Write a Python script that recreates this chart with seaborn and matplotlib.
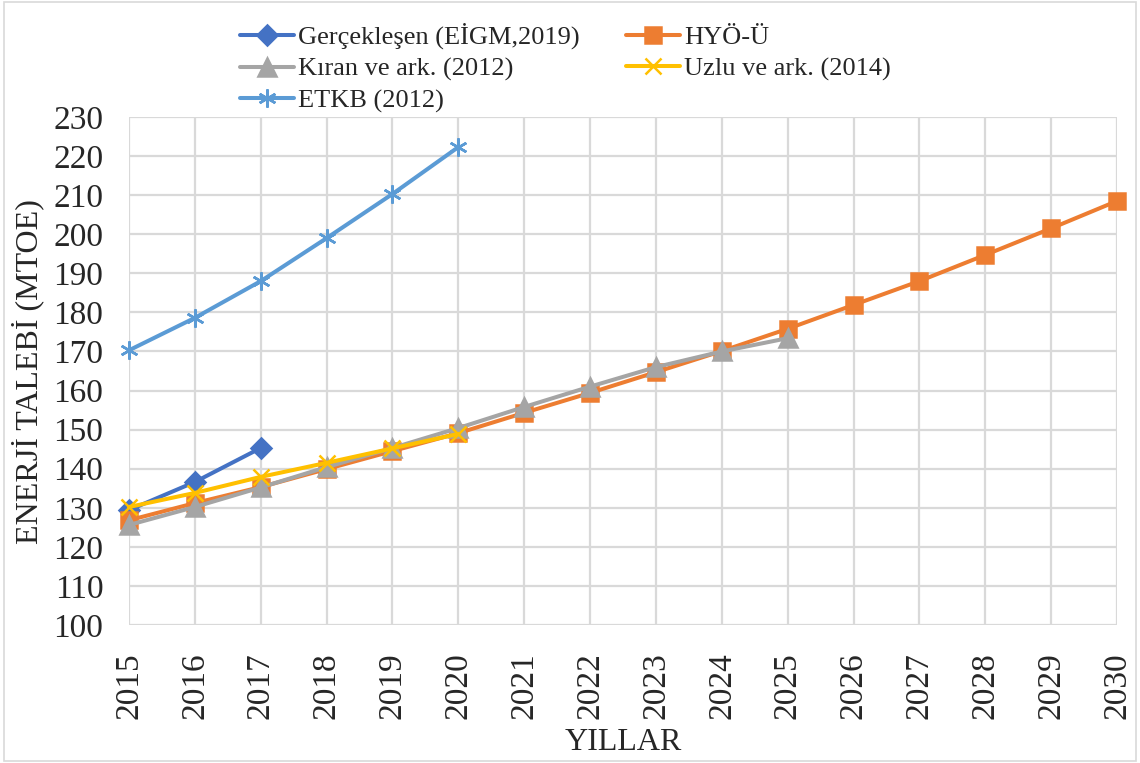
import seaborn as sns
import matplotlib.pyplot as plt
from matplotlib.patches import Rectangle

years = list(range(2015, 2031))

gerceklesen = [129.4, 136.6, 145.3]
hyo_u = [126.8, 131.2, 135.3, 139.9, 144.5, 149.1, 154.3, 159.4, 164.7, 170.1,
         175.8, 181.9, 188.0, 194.7, 201.5, 208.5]
kiran = [125.6, 130.2, 135.2, 140.4, 145.3, 150.4, 155.8, 161.0, 166.0, 170.0, 173.4]
uzlu = [130.2, 133.8, 137.9, 141.5, 145.2, 148.9]
etkb = [170.3, 178.6, 188.0, 199.0, 210.3, 222.3]

series = [
    ('Gerçekleşen (EİGM,2019)', gerceklesen, '#4472C4', 'D', 10),
    ('HYÖ-Ü', hyo_u, '#ED7D31', 's', 11.5),
    ('Kıran ve ark. (2012)', kiran, '#A5A5A5', '^', 12.5),
    ('Uzlu ve ark. (2014)', uzlu, '#FFC000', 'x', 11),
    ('ETKB (2012)', etkb, '#5B9BD5', (6, 2, 0), 13),
]

sns.set_style("whitegrid")
plt.rcParams['font.family'] = ['Liberation Serif', 'DejaVu Serif']

fig, ax = plt.subplots(figsize=(11.4, 7.63), dpi=100)
fig.subplots_adjust(left=129 / 1140, right=1117 / 1140, top=1 - 117 / 763, bottom=1 - 625 / 763)

for name, vals, color, marker, ms in series:
    sns.lineplot(x=years[:len(vals)], y=vals, ax=ax, color=color, marker=marker,
                 markersize=ms, markeredgecolor=color, markeredgewidth=1.8,
                 linewidth=2.9, clip_on=False, label=name, zorder=3)

h, l = ax.get_legend_handles_labels()
ax.get_legend().remove()
# matplotlib fills legend columns first, so reorder to read row by row
order = [0, 2, 4, 1, 3]
fig.legend([h[i] for i in order], [l[i] for i in order], ncol=2, frameon=False,
           loc='upper left', bbox_to_anchor=(240 / 1140, 1 - 23 / 763), fontsize=19,
           handlelength=2.05, handletextpad=0.15, columnspacing=1.75,
           labelspacing=0.3, borderpad=0, borderaxespad=0)

ax.set_xlim(2015, 2030)
ax.set_ylim(100, 230)
ax.set_xticks(years)
ax.set_xticklabels([str(y) for y in years], rotation=90, fontsize=24)
ax.set_yticks(range(100, 231, 10))
ax.tick_params(axis='y', labelsize=24, pad=15)
ax.tick_params(axis='x', pad=16)
ax.grid(True, color='#D9D9D9', linewidth=1.6)
for s in ax.spines.values():
    s.set_visible(False)
ax.set_xlabel('')
ax.set_ylabel('')
fig.text(623 / 1140, 1 - 742 / 763, 'YILLAR', fontsize=23, ha='center', va='center')
fig.text(28 / 1140, 1 - 372 / 763, 'ENERJİ TALEBİ (MTOE)', fontsize=23,
         rotation=90, ha='center', va='center')

fig.patches.append(Rectangle((4 / 1140, 2 / 763), 1 - 8 / 1140, 1 - 4 / 763,
                             transform=fig.transFigure, fill=False,
                             edgecolor='#D9D9D9', linewidth=1.2))

plt.savefig('out.png', dpi=100)
